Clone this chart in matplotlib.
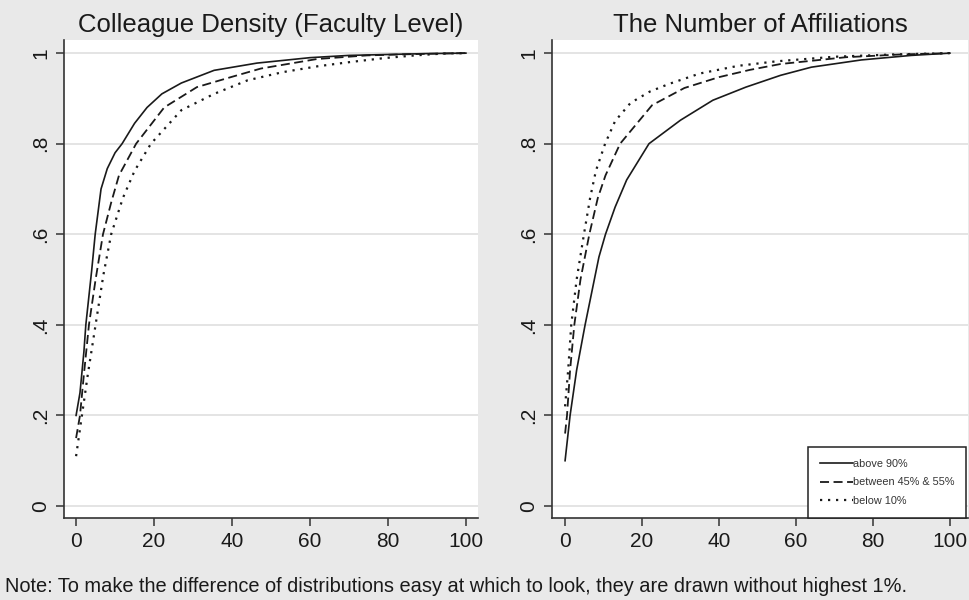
import matplotlib.pyplot as plt

plt.rcParams['font.family'] = ['Liberation Sans', 'DejaVu Sans']

# CDF values (x = percentile rank, y = cumulative share)
left_top_x = [0, 1, 2, 2.5, 3, 4, 4.9, 6.4, 8, 10, 11.8, 15, 18.2, 22, 27, 35.4, 46.4, 60, 70, 80, 90, 100]
left_top_y = [0.20, 0.25, 0.34, 0.40, 0.44, 0.52, 0.60, 0.70, 0.745, 0.78, 0.80, 0.845, 0.88, 0.91, 0.934, 0.962, 0.978, 0.99, 0.995, 0.997, 0.999, 1.0]

left_mid_x = [0, 1, 2, 3.3, 5, 6.9, 9, 11, 15.4, 22.6, 31, 39.7, 47.4, 61.8, 74.6, 87, 100]
left_mid_y = [0.15, 0.20, 0.29, 0.40, 0.50, 0.60, 0.67, 0.73, 0.80, 0.88, 0.925, 0.947, 0.966, 0.987, 0.995, 0.998, 1.0]

left_low_x = [0, 1, 1.5, 3, 5, 7, 9, 12, 15, 19.2, 27, 35.4, 44, 53, 62, 70, 79, 87, 94, 100]
left_low_y = [0.11, 0.17, 0.20, 0.29, 0.40, 0.51, 0.60, 0.68, 0.74, 0.80, 0.874, 0.91, 0.94, 0.958, 0.971, 0.98, 0.989, 0.995, 0.999, 1.0]

right_top_x = [0, 1.3, 3, 5.2, 8.8, 10.5, 13, 16, 21.8, 30, 38.4, 47, 56, 64, 77, 90, 100]
right_top_y = [0.10, 0.20, 0.30, 0.40, 0.55, 0.60, 0.66, 0.72, 0.80, 0.852, 0.896, 0.925, 0.951, 0.969, 0.985, 0.995, 1.0]

right_mid_x = [0, 0.5, 1.3, 2.4, 4, 6.3, 8.5, 10.5, 14.3, 22.6, 31, 40, 48, 56, 73, 87, 100]
right_mid_y = [0.16, 0.20, 0.30, 0.40, 0.50, 0.60, 0.68, 0.73, 0.80, 0.885, 0.923, 0.947, 0.963, 0.976, 0.991, 0.997, 1.0]

right_low_x = [0, 0.8, 1.6, 3, 4.9, 6.5, 8, 10.4, 13, 17, 22, 27, 35, 45, 55, 70, 85, 100]
right_low_y = [0.22, 0.30, 0.40, 0.50, 0.60, 0.68, 0.74, 0.80, 0.85, 0.89, 0.915, 0.932, 0.955, 0.972, 0.982, 0.992, 0.997, 1.0]

group_labels = ['above 90%', 'between 45% & 55%', 'below 10%']
panel_titles = ['Colleague Density (Faculty Level)', 'The Number of Affiliations']
x_ticks = [0, 20, 40, 60, 80, 100]
y_ticks = [0, 0.2, 0.4, 0.6, 0.8, 1]
y_tick_labels = ['0', '.2', '.4', '.6', '.8', '1']

bg = '#e9e9e9'
fig = plt.figure(figsize=(9.7, 6.0), dpi=100, facecolor=bg)
ax1 = fig.add_axes([64 / 970, 1 - 518 / 600, 414 / 970, 478 / 600])
ax2 = fig.add_axes([552 / 970, 1 - 518 / 600, 416 / 970, 478 / 600])

styles = [dict(ls='-', lw=1.2),
          dict(ls=(0, (5, 2.5)), lw=1.3),
          dict(ls=(0, (1, 2.6)), lw=1.6)]

panels = [
    (ax1, [(left_top_x, left_top_y), (left_mid_x, left_mid_y), (left_low_x, left_low_y)], (-3.1, 103.1)),
    (ax2, [(right_top_x, right_top_y), (right_mid_x, right_mid_y), (right_low_x, right_low_y)], (-3.4, 104.7)),
]

for i, (ax, series, xl) in enumerate(panels):
    ax.set_facecolor('white')
    for (xs, ys), st, lab in zip(series, styles, group_labels):
        ax.plot(xs, ys, color='#1a1a1a', label=lab, **st)
    ax.set_xlim(*xl)
    ax.set_ylim(-0.0265, 1.029)
    ax.set_xticks(x_ticks)
    ax.set_yticks(y_ticks)
    ax.set_yticklabels(y_tick_labels, rotation=90, va='center')
    ax.yaxis.grid(True, color='#e2e2e2', lw=1.3)
    ax.set_axisbelow(True)
    for s in ['top', 'right']:
        ax.spines[s].set_visible(False)
    for s in ['left', 'bottom']:
        ax.spines[s].set_color('#333333')
        ax.spines[s].set_linewidth(1.2)
    ax.tick_params(axis='both', length=6, width=1.1, color='#333333',
                   labelsize=15, labelcolor='#1a1a1a', pad=4)
    ax.set_title(panel_titles[i], fontsize=18.5, color='#1a1a1a', pad=6)

leg = ax2.legend(loc='lower right', bbox_to_anchor=(0.995, 0.0), borderaxespad=0,
                 fontsize=7.8, handlelength=3.0, handletextpad=0.0, labelspacing=0.8,
                 fancybox=False, edgecolor='#222222', framealpha=1,
                 borderpad=1.1)
leg.get_frame().set_linewidth(1.1)
for t in leg.get_texts():
    t.set_color('#333333')

fig.text(5 / 970, 1 - 586 / 600,
         'Note: To make the difference of distributions easy at which to look, '
         'they are drawn without highest 1%.',
         fontsize=14.4, color='#1a1a1a', va='center', ha='left')

fig.savefig('out.png', dpi=100, facecolor=bg)
